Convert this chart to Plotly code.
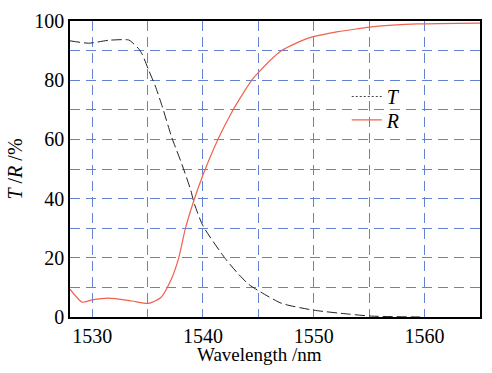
import plotly.graph_objects as go

# Transmittance T (%)
t_wl = [1528.0, 1529.7, 1531.5, 1533.3, 1533.6, 1534.2, 1534.5, 1535.1, 1535.7, 1536.3,
        1537.2, 1538.1, 1538.9, 1539.2, 1540.0, 1542.0, 1543.2, 1544.1, 1545.0, 1547.1,
        1550.0, 1553.1, 1555.2, 1559.6]
t_val = [93.3, 92.5, 93.5, 93.6, 92.8, 90.6, 88.9, 83.4, 78.0, 71.4,
         60.5, 51.6, 42.8, 38.5, 30.8, 19.8, 14.5, 11.1, 8.9, 4.6,
         2.3, 1.0, 0.3, 0.0]

# Reflectance R (%)
r_wl = [1528.0, 1529.1, 1530.0, 1531.5, 1533.6, 1535.1, 1536.2, 1537.2, 1537.8, 1538.4,
        1539.2, 1540.0, 1541.4, 1542.6, 1543.2, 1544.4, 1545.2, 1547.1, 1549.5,
        1552.2, 1554.0, 1555.2, 1559.4, 1565.0]
r_val = [9.4, 5.0, 5.8, 6.4, 5.4, 4.6, 6.6, 13.3, 19.8, 29.7,
         39.6, 48.0, 60.4, 69.2, 73.0, 80.0, 83.4, 90.0, 94.2,
         96.4, 97.4, 98.0, 99.0, 99.3]

x_ticks = [1530, 1540, 1550, 1560]
y_ticks = [0, 20, 40, 60, 80, 100]

FONT = "Liberation Serif"
GRID = "rgb(100,130,210)"
GDASH = "10px,6px"

fig = go.Figure()
fig.add_trace(go.Scatter(x=t_wl, y=t_val, mode="lines", showlegend=False,
                         line=dict(color="#222222", width=1, dash="10px,4px",
                                   shape="spline", smoothing=0.6)))
fig.add_trace(go.Scatter(x=r_wl, y=r_val, mode="lines", showlegend=False,
                         line=dict(color="#f0604f", width=1.2, shape="spline", smoothing=0.6)))
# legend entries
fig.add_trace(go.Scatter(x=[None], y=[None], mode="lines", name="<i>T</i>", legend="legend",
                         line=dict(color="#444444", width=1, dash="2px,2px")))
fig.add_trace(go.Scatter(x=[None], y=[None], mode="lines", name="<i>R</i>", legend="legend2",
                         line=dict(color="#f0604f", width=1.2)))

axis_common = dict(showline=True, linecolor="black", linewidth=1.5, mirror=True,
                   showgrid=True, gridcolor=GRID, gridwidth=1, griddash=GDASH,
                   zeroline=False, ticks="",
                   tickfont=dict(family=FONT, size=20, color="black"))

fig.update_xaxes(range=[1528, 1565], tickvals=x_ticks,
                 minor=dict(tick0=1525, dtick=5, showgrid=True, gridcolor=GRID,
                            gridwidth=1, griddash=GDASH),
                 **axis_common)
fig.update_yaxes(range=[0, 100], tickvals=y_ticks,
                 minor=dict(dtick=10, showgrid=True, gridcolor=GRID,
                            gridwidth=1, griddash=GDASH),
                 title=dict(text="<i>T</i> /<i>R</i> /%", font=dict(family=FONT, size=20, color="black"),
                            standoff=6),
                 **axis_common)

fig.add_annotation(text="Wavelength /nm", xref="paper", yref="paper",
                   x=0.461, y=-0.125, xanchor="center", yanchor="middle", showarrow=False,
                   font=dict(family=FONT, size=19, color="black"))

leg = dict(xanchor="left", yanchor="middle", bgcolor="rgba(255,255,255,0)",
           font=dict(family=FONT, size=20, color="black"), itemwidth=30)
fig.update_layout(width=492, height=373,
                  margin=dict(l=70, r=10, t=13, b=56),
                  paper_bgcolor="white", plot_bgcolor="white",
                  showlegend=True,
                  legend=dict(x=0.675, y=0.745, **leg),
                  legend2=dict(x=0.675, y=0.666, **leg))

fig.write_html("out.html")
